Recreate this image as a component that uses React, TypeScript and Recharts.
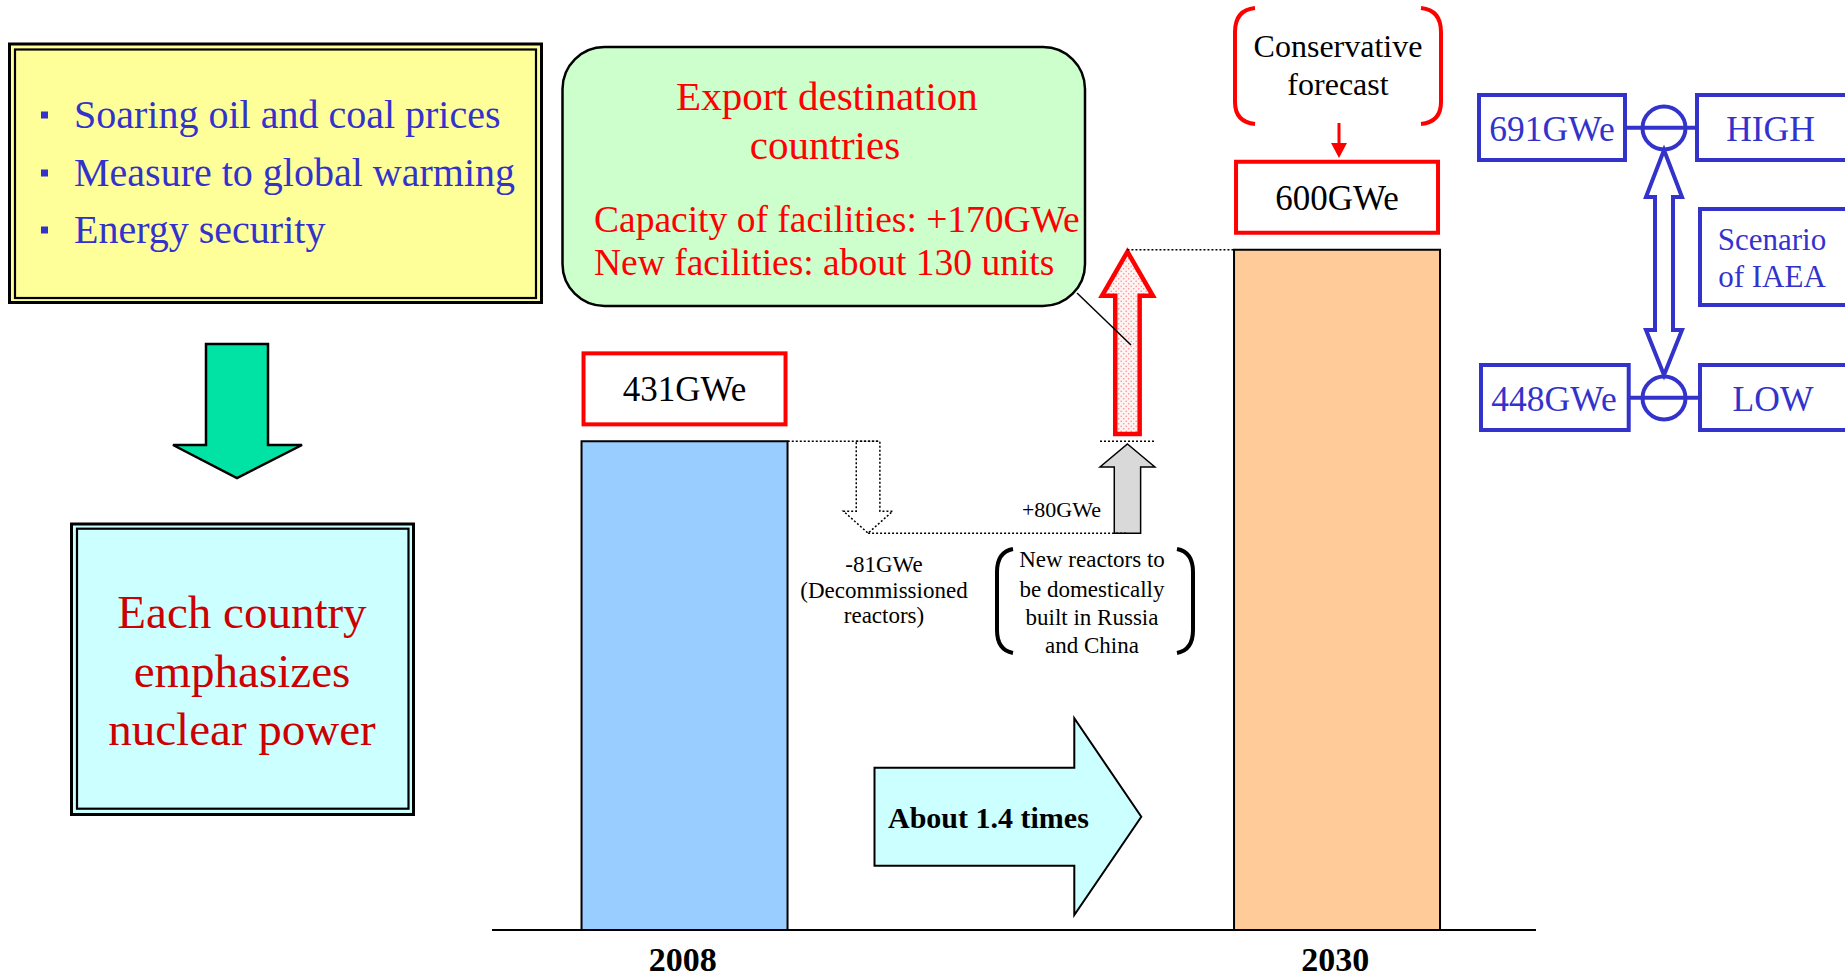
import {
  Bar,
  BarChart,
  Cell,
  LabelList,
  ReferenceArea,
  ReferenceLine,
  XAxis,
  YAxis
} from 'recharts';

// world nuclear capacity, GWe
const years = [2008, 2030];
const capacityGWe = [431, 600];
// decommissioned, new domestic build (Russia / China), export destination countries
const changeGWe = [-81, 80, 170];
const exportUnits = 130;
const drivers = ['Soaring oil and coal prices', 'Measure to global warming', 'Energy security'];
const iaeaCases = ['HIGH', 'LOW'];
const iaeaGWe = [691, 448];

const chartData = years.map((year, i) => ({ year, capacity: capacityGWe[i] }));
const afterDecom = capacityGWe[0] + changeGWe[0];
const afterDomestic = afterDecom + changeGWe[1];
const afterExport = afterDomestic + changeGWe[2];
const growth = (capacityGWe[1] / capacityGWe[0]).toFixed(1);

const SERIF = '"Liberation Serif", "Times New Roman", Times, serif';
const BLUE = '#3333cc';
const RED = '#ff0000';
const barColors = ['#99ccff', '#ffcc99'];

const W = 1845;
const H = 980;
const PLOT_LEFT = 492;
const PLOT_RIGHT = 1536;
const PLOT_TOP = 23;
const PLOT_BOTTOM = 930;
const X_AXIS_H = 40;
const X_DOMAIN: [number, number] = [2001.5, 2036.7];
const BAR_SIZE = 206;
const yrPerPx = (X_DOMAIN[1] - X_DOMAIN[0]) / (PLOT_RIGHT - PLOT_LEFT);
const barHalf = (BAR_SIZE / 2) * yrPerPx;
const decomX: [number, number] = [2013.35, 2015.01];
const buildX: [number, number] = [2022.0, 2023.85];
const mid = (r: [number, number]) => (r[0] + r[1]) / 2;
const shaftHalf = 0.24 * (decomX[1] - decomX[0]);

function arrowPoints(x: number, w: number, top: number, bottom: number, head: number, up: boolean) {
  const cx = x + w / 2;
  const s = w * 0.24;
  if (up) {
    const hb = top + head;
    return [
      [cx, top], [x + w, hb], [cx + s, hb], [cx + s, bottom],
      [cx - s, bottom], [cx - s, hb], [x, hb]
    ].map((p) => p.join(',')).join(' ');
  }
  const hb = bottom - head;
  return [
    [cx - s, top], [cx + s, top], [cx + s, hb], [x + w, hb],
    [cx, bottom], [x, hb], [cx - s, hb]
  ].map((p) => p.join(',')).join(' ');
}

const DecomArrow = (p: any) => (
  <polygon
    points={arrowPoints(p.x, p.width, p.y, p.y + p.height, 22, false)}
    fill="none"
    stroke="#000"
    strokeWidth={1.5}
    strokeDasharray="2 2"
  />
);

const DomesticArrow = (p: any) => (
  <polygon
    points={arrowPoints(p.x, p.width, p.y + 1.5, p.y + p.height, 23, true)}
    fill="#d9d9d9"
    stroke="#000"
    strokeWidth={1.5}
  />
);

const ExportArrow = (p: any) => (
  <g>
    <defs>
      <pattern id="pinkDots" width="5" height="5" patternUnits="userSpaceOnUse">
        <rect width="5" height="5" fill="#fff4f4" />
        <circle cx="1.2" cy="1.2" r="0.8" fill="#ff8c8c" />
        <circle cx="3.7" cy="3.7" r="0.8" fill="#ff8c8c" />
      </pattern>
    </defs>
    <polygon
      points={arrowPoints(p.x + 2, p.width - 4, p.y + 2, p.y + p.height - 8.5, 44, true)}
      fill="url(#pinkDots)"
      stroke={RED}
      strokeWidth={4.5}
    />
  </g>
);

const ValueBox = (props: any) => {
  const { x, y, width, value } = props;
  const bottom = y - 15;
  return (
    <g>
      <rect x={x + 2} y={bottom - 73} width={width - 4} height={71} fill="#fff" stroke={RED} strokeWidth={4} />
      <text x={x + width / 2} y={bottom - 25} textAnchor="middle" fontFamily={SERIF} fontSize={35} fill="#000">
        {value}GWe
      </text>
    </g>
  );
};

const YearTick = ({ x, y, payload }: any) => (
  <text x={x - 2} y={y + 41} textAnchor="middle" fontFamily={SERIF} fontWeight="bold" fontSize={34} fill="#000">
    {payload.value}
  </text>
);

const txt = (x: number, y: number, s: string, size: number, fill: string, anchor = 'middle', weight = 'normal') => (
  <text
    key={`${s}-${y}`}
    x={x}
    y={y}
    textAnchor={anchor as any}
    fontFamily={SERIF}
    fontSize={size}
    fontWeight={weight}
    fill={fill}
  >
    {s}
  </text>
);

function Overlay() {
  const driverBase = [128, 186, 243];
  return (
    <svg width={W} height={H} style={{ position: 'absolute', left: 0, top: 0, pointerEvents: 'none' }}>
      {/* drivers box */}
      <rect x={9.5} y={44} width={532} height={258.5} fill="#ffff99" stroke="#000" strokeWidth={3} />
      <rect x={15} y={49.5} width={521} height={248.5} fill="none" stroke="#000" strokeWidth={2.2} />
      {drivers.map((d, i) => (
        <g key={d}>
          <rect x={41} y={driverBase[i] - 16.5} width={7} height={7} fill={BLUE} />
          {txt(74, driverBase[i], d, 40, BLUE, 'start')}
        </g>
      ))}

      <polygon
        points="206,344 268,344 268,445 302,445 237,478 173,445 206,445"
        fill="#00e3a5"
        stroke="#000"
        strokeWidth={2.5}
      />

      <rect x={71.5} y={524} width={342} height={290.5} fill="#ccffff" stroke="#000" strokeWidth={3} />
      <rect x={77} y={528.7} width={331.5} height={280} fill="none" stroke="#000" strokeWidth={2.2} />
      {txt(242, 628, 'Each country', 47, '#cc0000')}
      {txt(242, 687, 'emphasizes', 47, '#cc0000')}
      {txt(242, 745, 'nuclear power', 47, '#cc0000')}

      {/* export destination callout */}
      <rect x={562.5} y={47} width={522.5} height={259} rx={42} fill="#ccffcc" stroke="#000" strokeWidth={2.5} />
      {txt(827, 110, 'Export destination', 41, RED)}
      {txt(825, 159, 'countries', 41, RED)}
      {txt(594, 231.5, `Capacity of facilities: +${changeGWe[2]}GWe`, 37.5, RED, 'start')}
      {txt(594, 275, `New facilities: about ${exportUnits} units`, 37.5, RED, 'start')}
      <line x1={1077} y1={293} x2={1131} y2={345} stroke="#000" strokeWidth={1.5} />

      {/* conservative forecast */}
      <path d="M1255 8 Q1235 10 1235 32 L1235 102 Q1235 122 1255 124" fill="none" stroke={RED} strokeWidth={4} />
      <path d="M1421 8 Q1441 10 1441 32 L1441 102 Q1441 122 1421 124" fill="none" stroke={RED} strokeWidth={4} />
      {txt(1338, 57, 'Conservative', 32, '#000')}
      {txt(1338, 95, 'forecast', 32, '#000')}
      <line x1={1339} y1={123} x2={1339} y2={145} stroke={RED} strokeWidth={3} />
      <polygon points="1331,143 1347,143 1339,158" fill={RED} />

      {/* decommissioned / domestic notes */}
      {txt(884, 571.5, `${changeGWe[0]}GWe`, 23, '#000')}
      {txt(884, 598, '(Decommissioned', 23, '#000')}
      {txt(884, 623, 'reactors)', 23, '#000')}
      {txt(1101, 516.5, `+${changeGWe[1]}GWe`, 22, '#000', 'end')}
      <path d="M1013 549 Q997 552 997 572 L997 630 Q997 650 1013 653" fill="none" stroke="#000" strokeWidth={4} />
      <path d="M1177 549 Q1193 552 1193 572 L1193 630 Q1193 650 1177 653" fill="none" stroke="#000" strokeWidth={4} />
      {txt(1092, 566.5, 'New reactors to', 23, '#000')}
      {txt(1092, 596.5, 'be domestically', 23, '#000')}
      {txt(1092, 625, 'built in Russia', 23, '#000')}
      {txt(1092, 652.5, 'and China', 23, '#000')}

      <polygon
        points="874.5,767.7 1074.3,767.7 1074.3,718.3 1141.3,816.7 1074.3,915 1074.3,865.7 874.5,865.7"
        fill="#ccffff"
        stroke="#000"
        strokeWidth={2}
      />
      {txt(888, 828, `About ${growth} times`, 30, '#000', 'start', 'bold')}

      {/* IAEA scenarios */}
      <g fill="none" stroke={BLUE} strokeWidth={4}>
        <rect x={1479} y={95} width={146} height={65} />
        <rect x={1697} y={95} width={160} height={65} />
        <rect x={1700} y={209} width={160} height={96} />
        <rect x={1481} y={365} width={147.7} height={65} />
        <rect x={1700} y={365} width={160} height={65} />
        <circle cx={1664} cy={128} r={21.5} />
        <circle cx={1664} cy={398} r={21.5} />
        <line x1={1627} y1={127.7} x2={1697} y2={127.7} />
        <line x1={1630} y1={397.7} x2={1700} y2={397.7} />
        <polygon points="1664,150 1682,197 1673,197 1673,330 1682,330 1664,375 1646,330 1655,330 1655,197 1646,197" />
      </g>
      {txt(1552, 140.7, `${iaeaGWe[0]}GWe`, 35.5, BLUE)}
      {txt(1770.5, 140.7, iaeaCases[0], 35.5, BLUE)}
      {txt(1772, 250, 'Scenario', 31, BLUE)}
      {txt(1772, 287.3, 'of IAEA', 31, BLUE)}
      {txt(1554, 410.7, `${iaeaGWe[1]}GWe`, 35.5, BLUE)}
      {txt(1773, 410.7, iaeaCases[1], 35.5, BLUE)}
    </svg>
  );
}

export default function App() {
  return (
    <div style={{ position: 'absolute', left: 0, top: 0, width: W, height: H, overflow: 'hidden', background: '#fff' }}>
      <div style={{ position: 'absolute', left: 0, top: 0 }}>
        <BarChart
          width={W}
          height={H}
          data={chartData}
          margin={{ top: PLOT_TOP, right: W - PLOT_RIGHT, bottom: H - PLOT_BOTTOM - X_AXIS_H, left: PLOT_LEFT }}
        >
          <XAxis
            type="number"
            dataKey="year"
            domain={X_DOMAIN}
            allowDataOverflow
            ticks={years}
            interval={0}
            height={X_AXIS_H}
            tickLine={false}
            tickSize={0}
            tickMargin={0}
            axisLine={{ stroke: '#000', strokeWidth: 2 }}
            tick={<YearTick />}
          />
          <YAxis hide domain={[0, 800]} allowDataOverflow />
          <ReferenceLine
            segment={[{ x: years[0] + barHalf, y: capacityGWe[0] }, { x: mid(decomX) + shaftHalf, y: capacityGWe[0] }]}
            stroke="#000"
            strokeWidth={1.5}
            strokeDasharray="2 2"
          />
          <ReferenceLine
            segment={[{ x: mid(decomX), y: afterDecom }, { x: mid(buildX), y: afterDecom }]}
            stroke="#000"
            strokeWidth={1.5}
            strokeDasharray="2 2"
          />
          <ReferenceLine
            segment={[{ x: buildX[0], y: capacityGWe[0] }, { x: buildX[1], y: capacityGWe[0] }]}
            stroke="#000"
            strokeWidth={1.5}
            strokeDasharray="2 2"
          />
          <ReferenceLine
            segment={[{ x: mid(buildX), y: afterExport }, { x: years[1] - barHalf, y: afterExport }]}
            stroke="#000"
            strokeWidth={1.5}
            strokeDasharray="2 2"
          />
          <ReferenceArea x1={decomX[0]} x2={decomX[1]} y1={afterDecom} y2={capacityGWe[0]} shape={DecomArrow} />
          <ReferenceArea x1={buildX[0]} x2={buildX[1]} y1={afterDecom} y2={afterDomestic} shape={DomesticArrow} />
          <ReferenceArea x1={buildX[0]} x2={buildX[1]} y1={afterDomestic} y2={afterExport} shape={ExportArrow} />
          <Bar dataKey="capacity" barSize={BAR_SIZE} stroke="#000" strokeWidth={2} isAnimationActive={false}>
            {chartData.map((d, i) => (
              <Cell key={d.year} fill={barColors[i]} />
            ))}
            <LabelList dataKey="capacity" content={<ValueBox />} />
          </Bar>
        </BarChart>
      </div>
      <Overlay />
    </div>
  );
}
